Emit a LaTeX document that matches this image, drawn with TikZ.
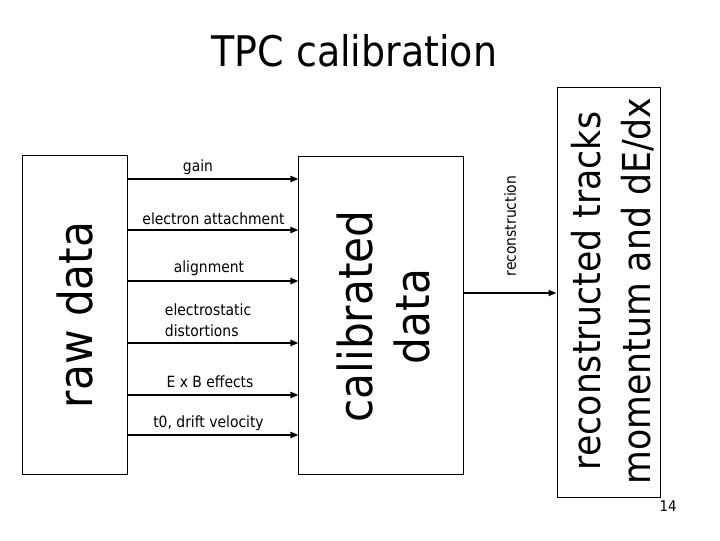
\documentclass[tikz,border=0pt]{standalone}
\usepackage{fontspec}
\setmainfont{DejaVu Sans Condensed}
\usetikzlibrary{arrows.meta}

\begin{document}
\begin{tikzpicture}[x=0.025cm, y=-0.025cm,
    box/.style={draw, line width=0.7pt, inner sep=0pt},
    flow/.style={-{Triangle[length=2mm,width=1.5mm]}, line width=1.3pt},
    step label/.style={font=\fontsize{11}{14.5}\selectfont, anchor=base},
    bigtext/.style={rotate=90, align=center}]
    \useasboundingbox (0,0) rectangle (720,540);

    \node[anchor=base, font=\fontsize{30}{36}\selectfont] (title) at (354.5,66) {TPC calibration};

    % the three stages
    \node[box, minimum width=2.6cm, minimum height=7.95cm] (raw) at (75,315) {};
    \node[box, minimum width=4.1cm, minimum height=7.925cm] (cal) at (381,315.5) {};
    \node[box, minimum width=2.575cm, minimum height=10.225cm] (trk) at (608.5,292.5) {};

    \node[bigtext, font=\fontsize{33.4}{40.5}\selectfont] (rawtext) at (raw) {raw data};
    \node[bigtext, font=\fontsize{33.4}{40.5}\selectfont] (caltext) at (383.5,316.5) {calibrated\\data};
    \node[bigtext, font=\fontsize{27.4}{35.6}\selectfont] (trktext) at (613,291) {reconstructed tracks\\momentum and dE/dx};

    % calibration steps, raw -> calibrated
    \foreach \yy in {179,230,281,343,395,435}
        \draw[flow] (raw.east |- 0,\yy) -- (cal.west |- 0,\yy);

    \node[step label] (gain) at (198,171) {gain};
    \node[step label] (attach) at (213.5,224) {electron attachment};
    \node[step label] (align) at (209,272) {alignment};
    \node[step label, anchor=base west, align=left] (estat) at (160,336) {electrostatic\\distortions};
    \node[step label] (exb) at (210,387) {E x B effects};
    \node[step label] (drift) at (208.5,427) {t0, drift velocity};

    % reconstruction step
    \coordinate (recoy) at (0,293);
    \draw[flow] (cal.east |- recoy) -- (trk.west |- recoy);
    \node[rotate=90, font=\fontsize{11}{13}\selectfont] (reco) at (510,226) {reconstruction};

    \node[font=\fontsize{10.5}{12}\selectfont] (page) at (668,506) {14};
\end{tikzpicture}
\end{document}
